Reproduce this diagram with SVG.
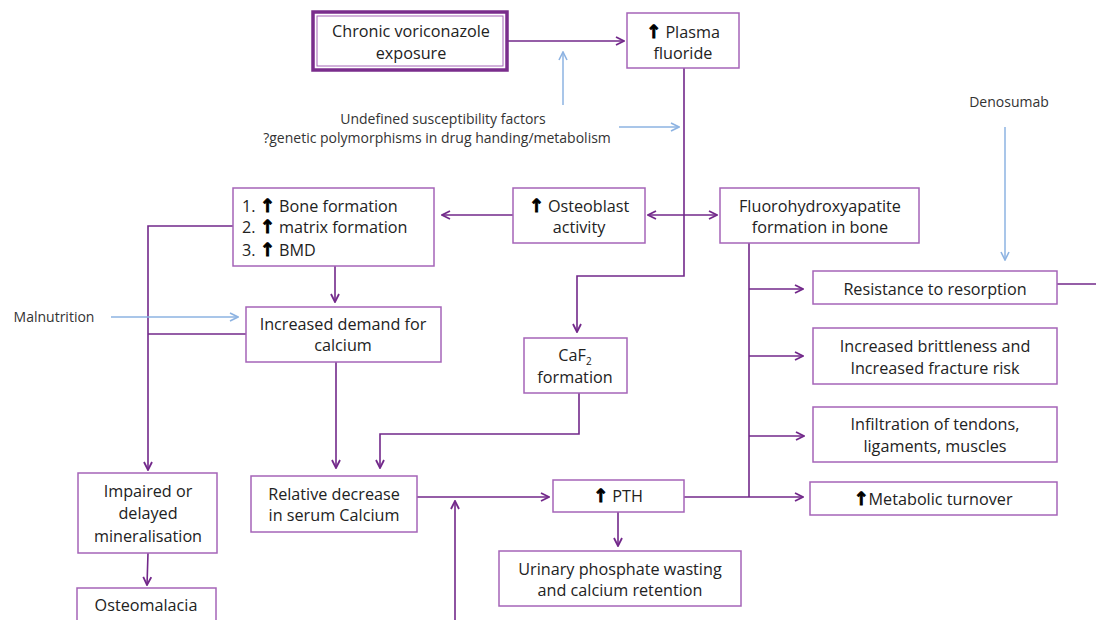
<svg xmlns="http://www.w3.org/2000/svg" width="1096" height="620" viewBox="0 0 1096 620">
<defs>
<marker id="ap" viewBox="0 0 10 10" refX="9" refY="5" markerWidth="10" markerHeight="10" markerUnits="userSpaceOnUse" orient="auto-start-reverse">
<path d="M1,1 L9,5 L1,9" fill="none" stroke="#72288a" stroke-width="1.8"/>
</marker>
<marker id="ab" viewBox="0 0 10 10" refX="9" refY="5" markerWidth="10" markerHeight="10" markerUnits="userSpaceOnUse" orient="auto">
<path d="M1,1 L9,5 L1,9" fill="none" stroke="#8db3e2" stroke-width="1.6"/>
</marker>
</defs>
<style>
.box{fill:#fff;stroke:#a564b8;stroke-width:1.5}
.t{font-family:"Open Sans","Liberation Sans",sans-serif;font-size:16.2px;fill:#222;text-anchor:middle}
.s{font-family:"Open Sans","Liberation Sans",sans-serif;font-size:14px;fill:#333;text-anchor:middle}
.l{font-family:"Open Sans","Liberation Sans",sans-serif;font-size:16.2px;fill:#222}
.up{font-family:"DejaVu Sans",sans-serif;font-weight:bold;font-size:18px;fill:#000;stroke:#000;stroke-width:0.9}
.c{fill:none;stroke:#72288a;stroke-width:1.6}
.cb{fill:none;stroke:#8db3e2;stroke-width:1.5}
</style>
<rect width="1096" height="620" fill="#fff"/>

<g id="connectors">
<path class="c" d="M507,41 H624" marker-end="url(#ap)"/>
<path class="cb" d="M563,105 V52" marker-end="url(#ab)"/>
<path class="cb" d="M619,127 H679" marker-end="url(#ab)"/>
<path class="c" d="M684,68 V276 H577 V332" marker-end="url(#ap)"/>
<path class="c" d="M513,215 H442" marker-end="url(#ap)"/>
<path class="c" d="M648,215 H717" marker-start="url(#ap)" marker-end="url(#ap)"/>
<path class="c" d="M233,226 H148 V470" marker-end="url(#ap)"/>
<path class="c" d="M335,266 V302" marker-end="url(#ap)"/>
<path class="cb" d="M111,317 H238" marker-end="url(#ab)"/>
<path class="c" d="M246,334 H148"/>
<path class="c" d="M336,362 V468" marker-end="url(#ap)"/>
<path class="c" d="M579,393 V434 H380 V468" marker-end="url(#ap)"/>
<path class="c" d="M417,497 H549" marker-end="url(#ap)"/>
<path class="c" d="M455,620 V501" marker-end="url(#ap)"/>
<path class="c" d="M684,497 H803" marker-end="url(#ap)"/>
<path class="c" d="M749,243 V497"/>
<path class="c" d="M749,289 H803" marker-end="url(#ap)"/>
<path class="c" d="M749,356 H803" marker-end="url(#ap)"/>
<path class="c" d="M749,436 H804" marker-end="url(#ap)"/>
<path class="c" d="M1057,284 H1096"/>
<path class="cb" d="M1005,127 V260" marker-end="url(#ab)"/>
<path class="c" d="M618,512 V546" marker-end="url(#ap)"/>
<path class="c" d="M148,553 L147,585" marker-end="url(#ap)"/>
</g>

<g id="chronic">
<rect x="313" y="12" width="194" height="58" fill="#fff" stroke="#7a2d8c" stroke-width="3.5"/>
<rect x="317" y="16" width="186" height="50" fill="none" stroke="#a564b8" stroke-width="1"/>
<text class="t" x="411" y="37">Chronic voriconazole</text>
<text class="t" x="411" y="59">exposure</text>
</g>

<g id="plasma">
<rect class="box" x="627" y="13" width="112" height="55"/>
<text class="t" x="683" y="38"><tspan class="up">↑</tspan> Plasma</text>
<text class="t" x="683" y="59">fluoride</text>
</g>

<g id="susceptibility">
<text class="s" x="443" y="124">Undefined susceptibility factors</text>
<text class="s" x="437" y="143">?genetic polymorphisms in drug handing/metabolism</text>
</g>

<g id="denosumab">
<text class="s" x="1009" y="107">Denosumab</text>
</g>

<g id="malnutrition">
<text class="s" x="54" y="322">Malnutrition</text>
</g>

<g id="osteoblast">
<rect class="box" x="513" y="188" width="132" height="55"/>
<text class="t" x="579" y="212"><tspan class="up">↑</tspan> Osteoblast</text>
<text class="t" x="579" y="233">activity</text>
</g>

<g id="boneformation">
<rect class="box" x="233" y="188" width="201" height="78"/>
<text class="l" x="242" y="212">1. <tspan class="up">↑</tspan> Bone formation</text>
<text class="l" x="242" y="233">2. <tspan class="up">↑</tspan> matrix formation</text>
<text class="l" x="242" y="256">3. <tspan class="up">↑</tspan> BMD</text>
</g>

<g id="fluorohydroxyapatite">
<rect class="box" x="720" y="188" width="199" height="55"/>
<text class="t" x="820" y="212">Fluorohydroxyapatite</text>
<text class="t" x="820" y="233">formation in bone</text>
</g>

<g id="demand">
<rect class="box" x="246" y="307" width="195" height="55"/>
<text class="t" x="343" y="330">Increased demand for</text>
<text class="t" x="343" y="351">calcium</text>
</g>

<g id="caf2">
<rect class="box" x="524" y="338" width="103" height="55"/>
<text class="t" x="575" y="361">CaF<tspan font-size="10" dy="4">2</tspan></text>
<text class="t" x="575" y="383">formation</text>
</g>

<g id="relative">
<rect class="box" x="251" y="476" width="166" height="56"/>
<text class="t" x="334" y="500">Relative decrease</text>
<text class="t" x="334" y="521">in serum Calcium</text>
</g>

<g id="pth">
<rect class="box" x="553" y="480" width="131" height="32"/>
<text class="t" x="618" y="502"><tspan class="up">↑</tspan> PTH</text>
</g>

<g id="urinary">
<rect class="box" x="499" y="551" width="242" height="55"/>
<text class="t" x="620" y="575">Urinary phosphate wasting</text>
<text class="t" x="620" y="596">and calcium retention</text>
</g>

<g id="resistance">
<rect class="box" x="813" y="271" width="244" height="33"/>
<text class="t" x="935" y="295">Resistance to resorption</text>
</g>

<g id="brittleness">
<rect class="box" x="813" y="328" width="244" height="56"/>
<text class="t" x="935" y="352">Increased brittleness and</text>
<text class="t" x="935" y="374">Increased fracture risk</text>
</g>

<g id="infiltration">
<rect class="box" x="813" y="407" width="244" height="55"/>
<text class="t" x="935" y="430">Infiltration of tendons,</text>
<text class="t" x="935" y="452">ligaments, muscles</text>
</g>

<g id="metabolic">
<rect class="box" x="810" y="482" width="247" height="33"/>
<text class="t" x="933" y="505"><tspan class="up">↑</tspan>Metabolic turnover</text>
</g>

<g id="impaired">
<rect class="box" x="78" y="473" width="139" height="80"/>
<text class="t" x="148" y="497">Impaired or</text>
<text class="t" x="148" y="519">delayed</text>
<text class="t" x="148" y="542">mineralisation</text>
</g>

<g id="osteomalacia">
<rect class="box" x="77" y="588" width="139" height="40"/>
<text class="t" x="146" y="611">Osteomalacia</text>
</g>
</svg>
